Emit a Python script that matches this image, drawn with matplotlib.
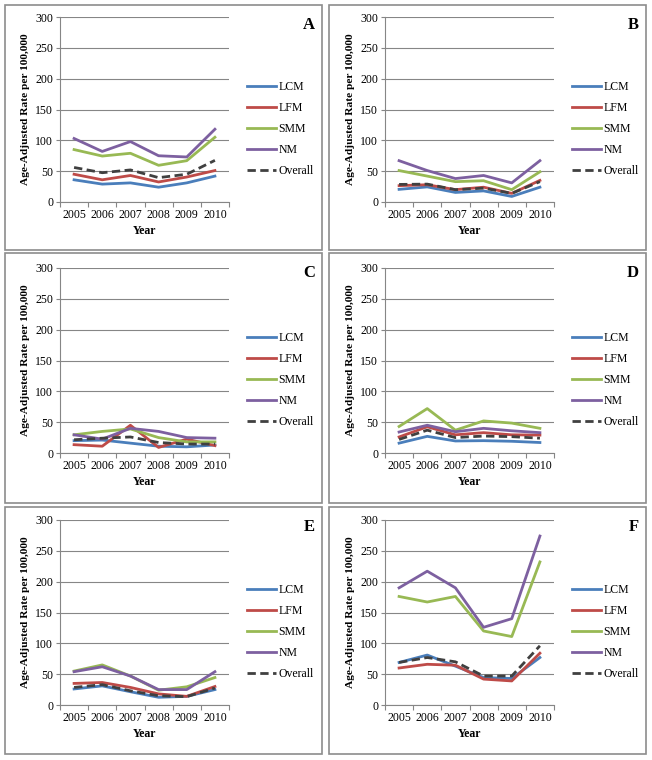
import numpy as np
import matplotlib
matplotlib.use("Agg")
import matplotlib.pyplot as plt
from matplotlib.patches import Rectangle

plt.rcParams['font.family'] = ['Liberation Serif', 'DejaVu Serif']

# ==============================================
#              DATA
# ==============================================
years = ["2005", "2006", "2007", "2008", "2009", "2010"]
series_names = ["LCM", "LFM", "SMM", "NM", "Overall"]

a_lcm = [36, 29, 31, 24, 31, 42]
a_lfm = [45, 36, 43, 32.5, 40.5, 51]
a_smm = [85, 74.5, 79, 59.5, 67, 105]
a_nm = [103, 82, 98, 75, 73, 118]
a_all = [56, 47.5, 52, 39.5, 45, 67.5]

b_lcm = [20.5, 24.5, 15.5, 18, 9, 24]
b_lfm = [26.5, 28, 20, 24, 14, 35]
b_smm = [51, 42, 33, 34.5, 20, 49]
b_nm = [67, 51, 38, 43, 31, 67]
b_all = [28.5, 29, 20, 22.5, 14, 33]

c_lcm = [20, 21, 16, 11, 10, 13]
c_lfm = [13.5, 11, 45, 9, 22.5, 12]
c_smm = [29.5, 35, 39, 25, 18, 18]
c_nm = [29.5, 22.5, 40, 35, 25, 24]
c_all = [21.5, 24, 26, 17, 14.5, 14.5]

d_lcm = [16, 27, 19.5, 20, 19, 17]
d_lfm = [26, 42.5, 29.5, 33, 29.5, 29]
d_smm = [43, 72, 37, 52, 48.5, 40]
d_nm = [34, 45, 34.5, 40, 36, 33]
d_all = [22, 37, 25, 27.5, 26.5, 24]

e_lcm = [26, 31, 21.5, 12.5, 14, 25]
e_lfm = [35, 36.5, 28.5, 18, 14, 30]
e_smm = [55, 65, 47, 24, 29.5, 44.5]
e_nm = [54, 62, 47, 25, 25, 54]
e_all = [28.5, 33, 23, 15, 13.5, 27.5]

f_lcm = [69, 81, 63, 44.5, 43, 77]
f_lfm = [60, 66, 64.5, 42, 39, 84]
f_smm = [176, 167, 176, 120, 111, 232]
f_nm = [190, 217, 190, 126, 140, 274]
f_all = [69, 77, 70, 47, 47, 96]

panels = {
    "A": [a_lcm, a_lfm, a_smm, a_nm, a_all],
    "B": [b_lcm, b_lfm, b_smm, b_nm, b_all],
    "C": [c_lcm, c_lfm, c_smm, c_nm, c_all],
    "D": [d_lcm, d_lfm, d_smm, d_nm, d_all],
    "E": [e_lcm, e_lfm, e_smm, e_nm, e_all],
    "F": [f_lcm, f_lfm, f_smm, f_nm, f_all],
}

colors = ["#4A7EBB", "#BE4B48", "#98B954", "#7D60A0", "#404040"]

# ==============================================
#              LAYOUT (pixels)
# ==============================================
W, H = 652, 760
fig = plt.figure(figsize=(W / 100, H / 100), dpi=100)

box_x = [(5, 322), (329, 646)]
box_y = [(5, 250), (253, 503), (507, 754)]
ax_left = [60, 385]
ax_top = [17, 268, 520]
ax_w, ax_h = 169, 185

grid_c = "#868686"
x = np.arange(len(years)) + 0.5

for i, (letter, data) in enumerate(panels.items()):
    r, c = divmod(i, 2)
    # panel border
    bx0, bx1 = box_x[c]
    by0, by1 = box_y[r]
    fig.patches.append(Rectangle((bx0 / W, 1 - by1 / H), (bx1 - bx0) / W, (by1 - by0) / H,
                                 transform=fig.transFigure, fill=False,
                                 edgecolor="#8c8c8c", lw=1.2))

    ax = fig.add_axes([ax_left[c] / W, 1 - (ax_top[r] + ax_h) / H, ax_w / W, ax_h / H])
    for k, vals in enumerate(data):
        if series_names[k] == "Overall":
            ax.plot(x, vals, color=colors[k], lw=2, ls=(0, (3, 1.6)), label=series_names[k])
        else:
            ax.plot(x, vals, color=colors[k], lw=2, label=series_names[k])

    ax.set_xlim(0, 6)
    ax.set_ylim(0, 300)
    ax.set_yticks(np.arange(0, 301, 50))
    ax.yaxis.grid(True, color=grid_c, lw=0.8)
    ax.set_axisbelow(True)
    ax.set_xticks(np.arange(0, 7))
    ax.set_xticklabels([])
    ax.set_xticks(x, minor=True)
    ax.set_xticklabels(years, minor=True)
    ax.tick_params(axis="x", which="major", length=3.5, color=grid_c, direction="out")
    ax.tick_params(axis="x", which="minor", length=0, pad=5, labelsize=8.5)
    ax.tick_params(axis="y", length=3, color=grid_c, labelsize=8.5, pad=2)
    for s in ["top", "right"]:
        ax.spines[s].set_visible(False)
    for s in ["left", "bottom"]:
        ax.spines[s].set_color(grid_c)
        ax.spines[s].set_linewidth(0.8)

    ax.set_ylabel("Age-Adjusted Rate per 100,000", fontsize=8.2, fontweight="bold", labelpad=4)
    ax.set_xlabel("Year", fontsize=8.5, fontweight="bold", labelpad=3)

    ax.legend(loc="center left", bbox_to_anchor=(1.105, 0.395), frameon=False,
              fontsize=8.5, handlelength=2.5, handletextpad=0.2, labelspacing=0.75,
              borderpad=0, borderaxespad=0)

    fig.text((bx1 - 7) / W, 1 - (by0 + 20) / H, letter, fontsize=12, fontweight="bold",
             ha="right", va="center")

fig.savefig("out.png", dpi=100)
